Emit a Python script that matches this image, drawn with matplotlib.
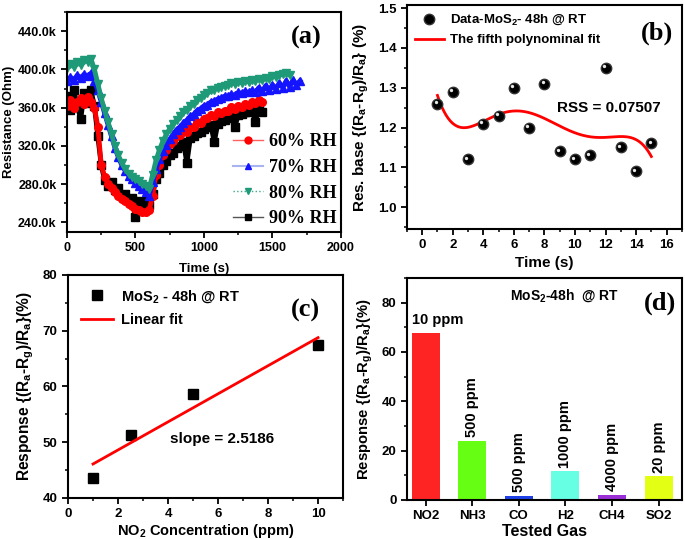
import numpy as np
import matplotlib
matplotlib.use('Agg')
import matplotlib.pyplot as plt
import matplotlib.transforms as mtransforms
from matplotlib.lines import Line2D
from matplotlib.ticker import MultipleLocator, FuncFormatter

# ---------------- Data ----------------
# (a) Resistance vs Time (kOhm), sampled every 25 s
rh60_time = np.arange(0, 1426, 25)
rh60_res = [362, 368, 360, 366, 370, 364, 371, 366, 360, 340, 300, 288, 280, 276, 272, 268,
            265, 262, 259, 257, 254, 253, 251, 251, 253, 268, 290, 300, 311, 316, 322, 325,
            330, 331, 336, 335, 340, 340, 345, 344, 348, 349, 352, 351, 355, 354, 357, 357,
            361, 359, 362, 361, 364, 363, 366, 365, 368, 366]

rh70_time = np.arange(0, 1701, 25)
rh70_res = [388, 392, 389, 394, 391, 395, 393, 396, 388, 378, 366, 354, 342, 330, 318, 308,
            300, 294, 289, 285, 281, 278, 275, 272, 268, 282, 296, 306, 315, 321, 327, 332,
            337, 340, 344, 347, 351, 353, 357, 359, 362, 363, 366, 367, 369, 370, 372, 372,
            374, 373, 376, 375, 377, 376, 378, 376, 381, 377, 383, 378, 384, 380, 386, 381,
            388, 382, 389, 384, 388]

rh80_time = np.arange(0, 1626, 25)
rh80_res = [402, 406, 403, 408, 405, 410, 408, 411, 400, 385, 370, 357, 345, 332, 320, 310,
            302, 296, 291, 288, 285, 283, 280, 278, 275, 290, 305, 316, 325, 332, 338, 343,
            347, 351, 355, 358, 362, 364, 368, 370, 373, 375, 378, 379, 381, 382, 383, 384,
            386, 385, 387, 386, 388, 387, 389, 388, 390, 389, 391, 390, 393, 392, 394, 395,
            396, 394]

rh90_time = np.arange(0, 1426, 25)
rh90_res = [372, 358, 378, 362, 348, 375, 365, 378, 362, 330, 300, 284, 278, 282, 274, 276,
            268, 270, 264, 266, 246, 262, 258, 262, 258, 270, 285, 292, 300, 304, 310, 313,
            318, 320, 324, 302, 328, 330, 334, 335, 338, 340, 342, 324, 343, 346, 347, 349,
            350, 340, 352, 353, 355, 356, 358, 345, 360, 356]

# (b) Baseline Response vs Time
base_time = [1, 2, 3, 4, 5, 6, 7, 8, 9, 10, 11, 12, 13, 14, 15]
base_resp = [1.26, 1.29, 1.12, 1.21, 1.23, 1.30, 1.20, 1.31, 1.14, 1.12, 1.13, 1.35, 1.15, 1.09, 1.16]

# (c) Response vs NO2 Concentration
conc_ppm = [1, 2.5, 5, 10]
conc_resp = [43.5, 51.3, 58.7, 67.4]

# (d) Selectivity
gases = ['NO2', 'NH3', 'CO', 'H2', 'CH4', 'SO2']
gas_resp = [67.5, 24.0, 1.6, 11.6, 2.0, 9.6]
gas_conc = ['10 ppm', '500 ppm', '500 ppm', '1000 ppm', '4000 ppm', '20 ppm']
gas_colors = ['#ff2424', '#66ff14', '#1f3fe6', '#66ffe3', '#9a2fd6', '#e2ff14']

# ---------------- Style ----------------
plt.rcParams['font.family'] = ['Liberation Sans', 'DejaVu Sans']
plt.rcParams['font.weight'] = 'bold'
plt.rcParams['axes.labelweight'] = 'bold'
plt.rcParams['mathtext.fontset'] = 'custom'
plt.rcParams['mathtext.rm'] = 'Liberation Sans:bold'
plt.rcParams['mathtext.default'] = 'rm'
plt.rcParams['axes.linewidth'] = 1.5
plt.rcParams['xtick.direction'] = 'out'
plt.rcParams['ytick.direction'] = 'out'
plt.rcParams['xtick.major.width'] = 1.3
plt.rcParams['ytick.major.width'] = 1.3
plt.rcParams['xtick.minor.width'] = 1.1
plt.rcParams['ytick.minor.width'] = 1.1
plt.rcParams['xtick.major.size'] = 4
plt.rcParams['ytick.major.size'] = 4
plt.rcParams['xtick.minor.size'] = 2.5
plt.rcParams['ytick.minor.size'] = 2.5

serif = ['Liberation Serif', 'DejaVu Serif']
resp_label = 'Response {(R$_a$-R$_g$)/R$_a$}(%)'

fig = plt.figure(figsize=(6.85, 5.39), dpi=100)

ax_a = fig.add_axes([0.0978, 0.5696, 0.400, 0.408])
ax_b = fig.add_axes([0.594, 0.5751, 0.4015, 0.4156])
ax_c = fig.add_axes([0.0993, 0.0761, 0.4015, 0.4137])
ax_d = fig.add_axes([0.594, 0.0724, 0.4015, 0.4119])
ax_c.patch.set_alpha(0)  # Keep (a) x-label visible above (c)

# ---------------- (a) ----------------
ms, lw = 5.5, 3.5
ax_a.plot(rh90_time, np.array(rh90_res) * 1000, color='black', marker='s', ms=ms, lw=lw)
ax_a.plot(rh60_time, np.array(rh60_res) * 1000, color='#ff0000', marker='o', ms=ms, lw=lw)
ax_a.plot(rh70_time, np.array(rh70_res) * 1000, color='#1414ff', marker='^', ms=ms + 0.5, lw=lw)
ax_a.plot(rh80_time, np.array(rh80_res) * 1000, color='#1f9a78', marker='v', ms=ms + 0.5, lw=lw)

ax_a.set_xlim(0, 2000)
ax_a.set_ylim(230000, 460000)
ax_a.xaxis.set_major_locator(MultipleLocator(500))
ax_a.xaxis.set_minor_locator(MultipleLocator(250))
ax_a.yaxis.set_major_locator(MultipleLocator(40000))
ax_a.yaxis.set_minor_locator(MultipleLocator(20000))
ax_a.yaxis.set_major_formatter(FuncFormatter(lambda v, p: f'{v / 1000:.1f}k'))
ax_a.tick_params(labelsize=9)
ax_a.set_xlabel('Time (s)', fontsize=9.5, labelpad=6)
ax_a.set_ylabel('Resistance (Ohm)', fontsize=9.5, labelpad=2)

legend_handles = [
    Line2D([], [], color='#ff6060', lw=1, marker='o', mfc='#ff0000', mec='#ff0000', ms=5),
    Line2D([], [], color='#a8b4f0', lw=1.5, marker='^', mfc='#1414ff', mec='#1414ff', ms=5),
    Line2D([], [], color='#40aa88', lw=1, ls=':', marker='v', mfc='#1f9a78', mec='#1f9a78', ms=5),
    Line2D([], [], color='#555555', lw=1, marker='s', mfc='black', mec='black', ms=4.5),
]
ax_a.legend(legend_handles, ['60% RH', '70% RH', '80% RH', '90% RH'],
            loc='lower right', frameon=False, handlelength=1.7, handletextpad=0.3,
            labelspacing=0.48, borderpad=0.0, borderaxespad=0.25,
            prop={'family': serif, 'weight': 'bold', 'size': 13})
ax_a.text(0.93, 0.886, '(a)', transform=ax_a.transAxes, ha='right', va='center',
          fontsize=19, fontweight='bold', family=serif)

# ---------------- (b) ----------------
coef = np.polyfit(base_time, base_resp, 5)
fit_x = np.linspace(base_time[0], base_time[-1], 200)
ax_b.plot(fit_x, np.polyval(coef, fit_x), color='#ff0000', lw=2, zorder=2,
          label='The fifth polynominal fit')
ax_b.plot(base_time, base_resp, ls='none', marker='o', ms=7.5, mfc='black', mec='#333333',
          zorder=3, label='Data-MoS$_2$- 48h @ RT')
shine = mtransforms.offset_copy(ax_b.transData, fig=fig, x=-1.3, y=1.3, units='points')
ax_b.plot(base_time, base_resp, ls='none', marker='o', ms=2.4, mfc='#e8e8e8', mec='none',
          transform=shine, zorder=4)

ax_b.set_xlim(-1, 17)
ax_b.set_ylim(0.945, 1.508)
ax_b.xaxis.set_major_locator(MultipleLocator(2))
ax_b.xaxis.set_minor_locator(MultipleLocator(1))
ax_b.yaxis.set_major_locator(MultipleLocator(0.1))
ax_b.yaxis.set_minor_locator(MultipleLocator(0.05))
ax_b.tick_params(labelsize=9.5)
ax_b.set_xlabel('Time (s)', fontsize=11, labelpad=3)
ax_b.set_ylabel('Res. base {(R$_a$-R$_g$)/R$_a$} (%)', fontsize=11, labelpad=5)
handles, labels = ax_b.get_legend_handles_labels()
ax_b.legend(handles[::-1][:2], labels[::-1][:2], loc='upper left', frameon=False,
            fontsize=9.5, handlelength=2.2, handletextpad=0.5, labelspacing=0.5,
            borderaxespad=0.2, bbox_to_anchor=(0.0, 1.0))
ax_b.text(8.8, 1.25, 'RSS = 0.07507', ha='left', va='center', fontsize=11, fontweight='bold')
ax_b.text(0.967, 0.875, '(b)', transform=ax_b.transAxes, ha='right', va='center',
          fontsize=19, fontweight='bold', family=serif)

# ---------------- (c) ----------------
slope, icpt = np.polyfit(conc_ppm, conc_resp, 1)
line_x = np.array([conc_ppm[0], conc_ppm[-1]])
ax_c.plot(conc_ppm, conc_resp, ls='none', marker='s', ms=7, color='black',
          label='MoS$_2$ - 48h @ RT')
ax_c.plot(line_x, slope * line_x + icpt, color='#ff0000', lw=2, label='Linear fit')
ax_c.set_xlim(0, 11)
ax_c.set_ylim(40, 80)
ax_c.xaxis.set_major_locator(MultipleLocator(2))
ax_c.xaxis.set_minor_locator(MultipleLocator(1))
ax_c.yaxis.set_major_locator(MultipleLocator(10))
ax_c.yaxis.set_minor_locator(MultipleLocator(5))
ax_c.tick_params(labelsize=9.5)
ax_c.set_xlabel('NO$_2$ Concentration (ppm)', fontsize=10.5, labelpad=1)
ax_c.set_ylabel(resp_label, fontsize=11.2, labelpad=5)
ax_c.legend(loc='upper left', frameon=False, fontsize=10.5, handlelength=2.2,
            handletextpad=0.5, labelspacing=0.55, borderaxespad=0.5)
ax_c.text(4.08, 50.6, f'slope = {slope:.4f}', ha='left', va='center', fontsize=11,
          fontweight='bold')
ax_c.text(0.916, 0.843, '(c)', transform=ax_c.transAxes, ha='right', va='center',
          fontsize=19, fontweight='bold', family=serif)

# ---------------- (d) ----------------
pos = np.arange(len(gases))
bw = 0.6
ax_d.bar(pos, gas_resp, width=bw, color=gas_colors)
for i, (v, lab) in enumerate(zip(gas_resp, gas_conc)):
    if i == 0:
        ax_d.text(i - bw / 2, v + 2.5, lab, ha='left', va='bottom', fontsize=10.5,
                  fontweight='bold')
    else:
        ax_d.text(i, v + 1.5, lab, ha='center', va='bottom', rotation=90, fontsize=10.5,
                  fontweight='bold')
ax_d.set_xlim(-0.4, 5.5)
ax_d.set_ylim(0, 90)
ax_d.set_xticks(pos)
ax_d.set_xticklabels(gases)
ax_d.yaxis.set_major_locator(MultipleLocator(20))
ax_d.yaxis.set_minor_locator(MultipleLocator(10))
ax_d.tick_params(labelsize=9.5)
ax_d.set_xlabel('Tested Gas', fontsize=11.5, labelpad=1)
ax_d.set_ylabel(resp_label, fontsize=10.7, labelpad=5)
ax_d.text(0.575, 0.919, 'MoS$_2$-48h  @ RT', transform=ax_d.transAxes, ha='center',
          va='center', fontsize=10, fontweight='bold')
ax_d.text(0.98, 0.887, '(d)', transform=ax_d.transAxes, ha='right', va='center',
          fontsize=19, fontweight='bold', family=serif)

fig.savefig('out.png', dpi=100)
